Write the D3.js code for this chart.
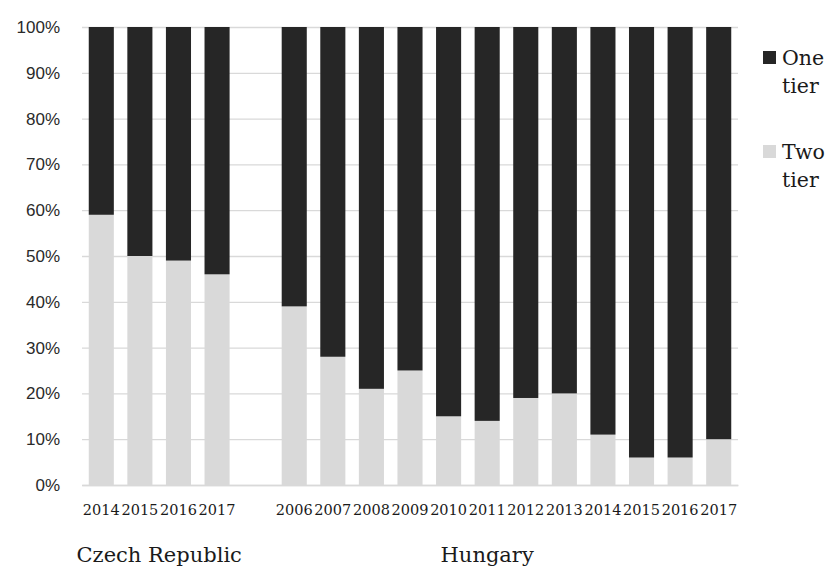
<!DOCTYPE html>
<html>
<head>
<meta charset="utf-8">
<script src="https://cdn.jsdelivr.net/npm/d3@7/dist/d3.min.js"></script>
<style>
  html, body { margin: 0; padding: 0; background: #fff; }
  svg { display: block; }
</style>
</head>
<body>
<svg id="chart" width="833" height="570"></svg>
<script>
// ---- data ----
const groupNames = ["Czech Republic", "Hungary"];
const czechYears = ["2014", "2015", "2016", "2017"];
const czechTwoTier = [59, 50, 49, 46];
const czechOneTier = [41, 50, 51, 54];
const hungaryYears = ["", "2006", "2007", "2008", "2009", "2010", "2011", "2012", "2013", "2014", "2015", "2016", "2017"];
const hungaryTwoTier = [null, 39, 28, 21, 25, 15, 14, 19, 20, 11, 6, 6, 10];
const hungaryOneTier = [null, 61, 72, 79, 75, 85, 86, 81, 80, 89, 94, 94, 90];
const seriesNames = ["One tier", "Two tier"];
const seriesColors = ["#262626", "#d9d9d9"];
const yTicks = [0, 10, 20, 30, 40, 50, 60, 70, 80, 90, 100];

// build rows
const rows = [];
czechYears.forEach((y, i) => rows.push({ key: "CZ-" + i, group: groupNames[0], year: y, two: czechTwoTier[i], one: czechOneTier[i] }));
hungaryYears.forEach((y, i) => rows.push({ key: "HU-" + i, group: groupNames[1], year: y, two: hungaryTwoTier[i], one: hungaryOneTier[i] }));

const W = 833, H = 570;
const margin = { top: 27, right: 95, bottom: 85, left: 82 };
const iw = W - margin.left - margin.right;
const ih = H - margin.top - margin.bottom;

const svg = d3.select("#chart");
const g = svg.append("g").attr("transform", `translate(${margin.left},${margin.top})`);

const x = d3.scaleBand().domain(rows.map(d => d.key)).range([0, iw]).paddingInner(0.35).paddingOuter(0.175);
const y = d3.scaleLinear().domain([0, 100]).range([ih, 0]);

// gridlines + y labels
const yAxis = g.append("g")
  .call(d3.axisLeft(y).tickValues(yTicks).tickSize(-iw).tickFormat(d => d + "%").tickPadding(22));
yAxis.select(".domain").remove();
yAxis.selectAll(".tick line").attr("stroke", "#d9d9d9").attr("stroke-width", 1.3);
yAxis.selectAll(".tick text")
  .attr("font-family", "'Liberation Sans', Arial, sans-serif")
  .attr("font-size", 17)
  .attr("fill", "#2a2a2a");

// stacked bars
const stackData = rows.filter(d => d.two !== null);
const stack = d3.stack().keys(["two", "one"])(stackData);
const color = d3.scaleOrdinal().domain(["one", "two"]).range(seriesColors);

g.append("g").selectAll("g")
  .data(stack)
  .join("g")
  .attr("fill", d => color(d.key))
  .selectAll("rect")
  .data(d => d)
  .join("rect")
  .attr("x", d => x(d.data.key))
  .attr("width", x.bandwidth())
  .attr("y", d => y(d[1]))
  .attr("height", d => y(d[0]) - y(d[1]));

// x axis (year labels)
const xAxis = g.append("g")
  .attr("transform", `translate(0,${ih})`)
  .call(d3.axisBottom(x).tickSize(0).tickPadding(20).tickFormat(k => rows.find(r => r.key === k).year));
xAxis.select(".domain").attr("stroke", "#d9d9d9").attr("stroke-width", 1.3);
xAxis.selectAll(".tick text")
  .attr("font-family", "'DejaVu Serif', serif")
  .attr("font-size", 14.5)
  .attr("fill", "#1a1a1a");

// group labels
groupNames.forEach(name => {
  const keys = rows.filter(r => r.group === name).map(r => r.key);
  const x0 = x(keys[0]) - x.step() * x.paddingInner() / 2;
  const x1 = x(keys[keys.length - 1]) + x.bandwidth() + x.step() * x.paddingInner() / 2;
  g.append("text")
    .attr("x", (x0 + x1) / 2)
    .attr("y", ih + 77)
    .attr("text-anchor", "middle")
    .attr("font-family", "'DejaVu Serif', serif")
    .attr("font-size", 21)
    .attr("fill", "#1a1a1a")
    .text(name);
});

// legend
const legend = svg.append("g").attr("transform", "translate(763,0)");
const legendItems = [
  { name: seriesNames[0], color: seriesColors[0], y: 51 },
  { name: seriesNames[1], color: seriesColors[1], y: 145 }
];
legendItems.forEach(it => {
  legend.append("rect").attr("x", 0).attr("y", it.y).attr("width", 13).attr("height", 13).attr("fill", it.color);
  const words = it.name.split(" ");
  words.forEach((w, i) => {
    legend.append("text")
      .attr("x", 19)
      .attr("y", it.y + 14 + i * 28)
      .attr("font-family", "'DejaVu Serif', serif")
      .attr("font-size", 20.5)
      .attr("fill", "#1a1a1a")
      .text(w);
  });
});
</script>
</body>
</html>
